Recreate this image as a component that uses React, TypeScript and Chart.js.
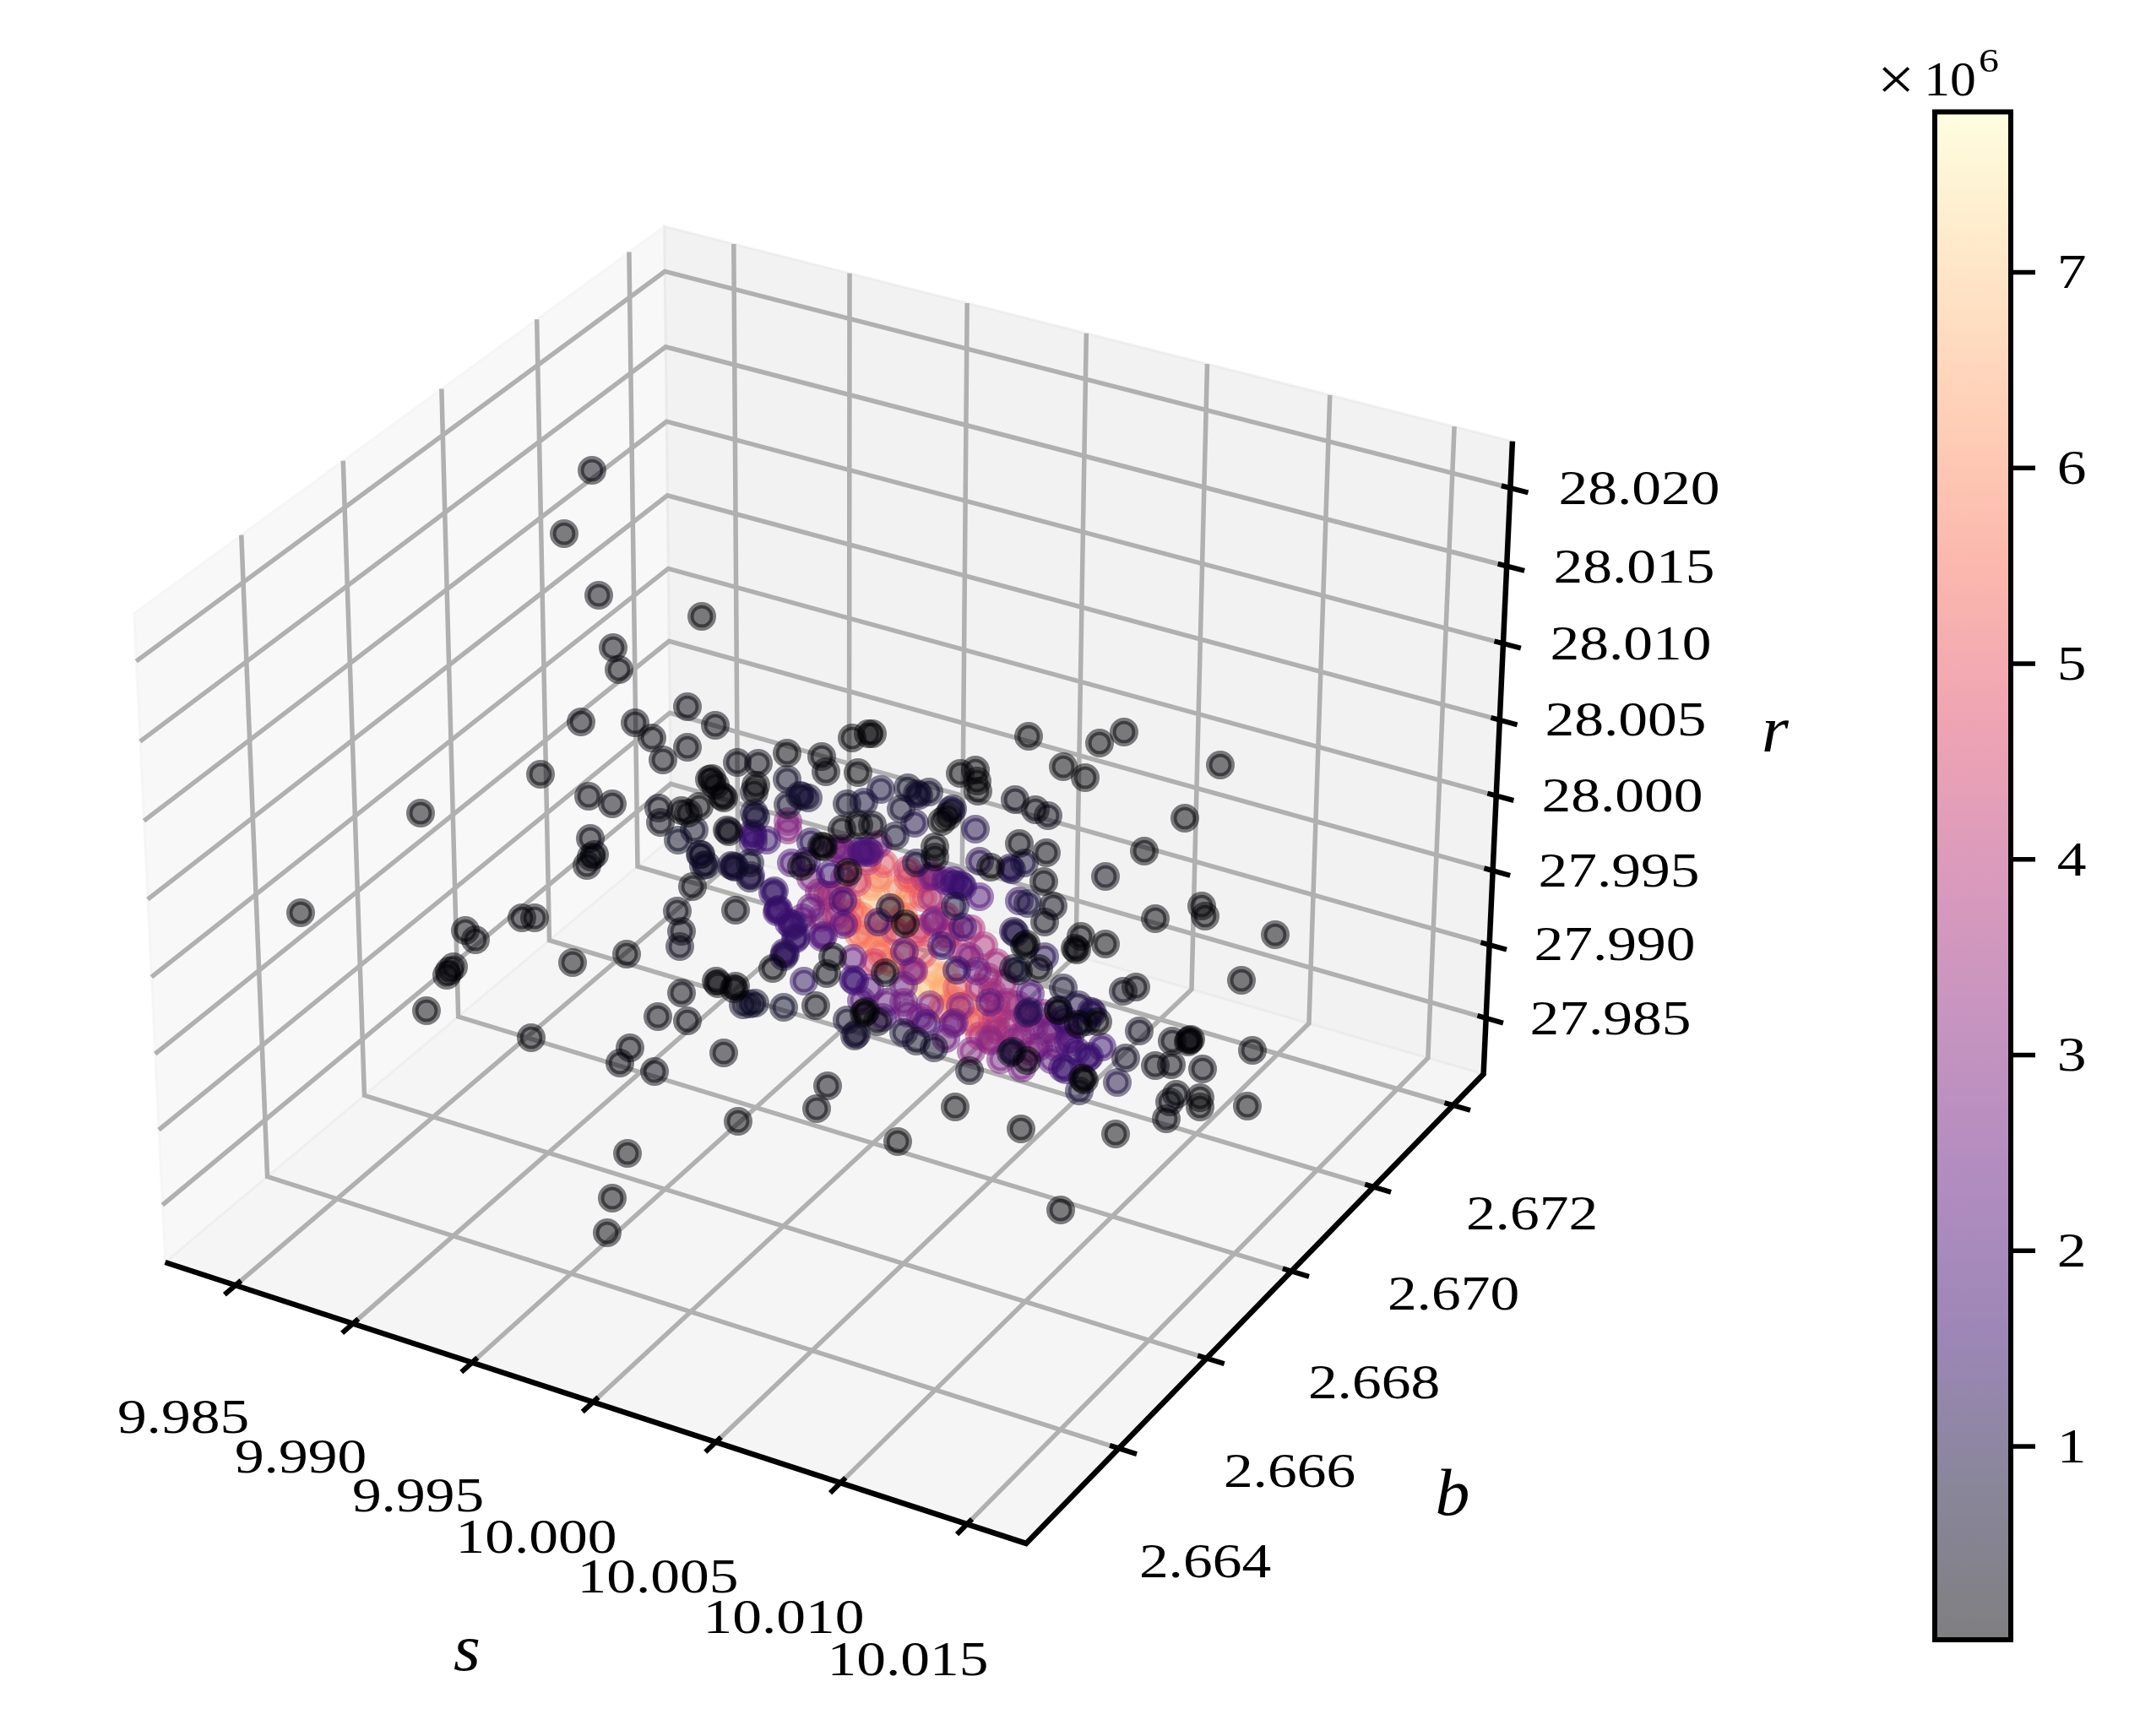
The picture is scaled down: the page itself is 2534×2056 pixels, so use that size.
import React, { useEffect, useRef } from "react";
import { Chart, registerables } from "chart.js";

Chart.register(...registerables);

type P = [number, number, number];

const sTicks = [9.985, 9.99, 9.995, 10.0, 10.005, 10.01, 10.015];
const bTicks = [2.664, 2.666, 2.668, 2.67, 2.672];
const rTicks = [27.985, 27.99, 27.995, 28.0, 28.005, 28.01, 28.015, 28.02];
const sLabels = ["9.985", "9.990", "9.995", "10.000", "10.005", "10.010", "10.015"];
const bLabels = ["2.664", "2.666", "2.668", "2.670", "2.672"];
const rLabels = ["27.985", "27.990", "27.995", "28.000", "28.005", "28.010", "28.015", "28.020"];
const colorbarTicks = [1, 2, 3, 4, 5, 6, 7];
const magma = ["0,0,4", "20,14,54", "59,15,112", "100,26,128", "140,41,129", "181,54,122", "222,73,104", "247,111,92", "254,159,109", "254,206,145", "252,253,191"];

// Points as read from the view plane: [across, down, colour value in units of 10^6]
const blackPoints: P[] = [
  [701,557,.1],[668,632,.05],[709,705,.1],[726,767,.08],[733,793,.08],[831,730,.05],[688,855,.1],[752,856,.1],[772,874,.1],[785,900,.1],
  [814,837,.1],[847,859,.1],[814,885,.1],[640,917,.05],[498,963,.05],[697,943,.1],[725,952,.1],[699,993,.1],[695,1025,.1],[700,1015,.1],[704,1012,.1],
  [356,1081,.05],[551,1102,.05],[563,1113,.05],[618,1087,.05],[633,1087,.05],[537,1145,.05],[532,1150,.05],[529,1155,.05],[505,1197,.05],[678,1140,.05],[742,1130,.05],
  [629,1229,.05],[807,1176,.1],[779,1204,.1],[814,1209,.1],[746,1241,.1],[734,1259,.1],[775,1269,.1],[857,1247,.1],[874,1328,.05],[743,1366,.05],[725,1419,.05],[719,1460,.05],
  [967,1313,.1],[980,1286,.1],[1063,1352,.05],[1131,1311,.05],[1209,1337,.05],[1321,1343,.05],[1256,1433,.05],
  [1218,872,.05],[1302,880,.05],[1331,867,.05],[1445,906,.05],[1259,908,.05],[1285,921,.05],[1403,969,.05],[1226,959,.1],[1137,916,.05],[1155,912,.05],[1157,925,.05],[1158,937,.05],
  [1355,1008,.05],[1368,1088,.05],[1423,1073,.05],[1427,1085,.05],[1510,1107,.05],[1470,1161,.05],[1483,1244,.05],[1477,1310,.05],[1424,1266,.1],[1393,1296,.1],[1385,1305,.1],[1421,1300,.05],[1421,1311,.05],
  [1381,1325,.1],[1368,1262,.1],[1387,1261,.1],[1388,1233,.1],[1408,1232,.05],[1410,1231,.05],[1407,1234,.05],
  [1009,874,.05],[1028,869,.05],[1033,869,.05],[932,892,.05],[973,896,.05],[978,914,.1],[1016,915,.05],[873,903,.2],[898,904,.2],
  [840,923,.05],[843,922,.05],[847,930,.05],[855,943,.05],[857,945,.05],[893,938,.2],[895,930,.05],[861,983,.2],[863,985,.2],[780,957,.2],[782,974,.2],[807,960,.05],[815,963,.05],[828,955,.05],
  [949,1026,.05],[1004,1033,.05],[973,1002,.05],[975,1003,.05],[997,982,.1],[1017,977,.1],[1072,1094,.03],[1048,1152,.2],[1107,1003,.05],[1107,1015,.1],[1115,973,.05],[1122,967,.05],[1173,1027,.05],
  [1230,1147,.03],[1216,1256,.1],[1282,1277,.05],[1284,1279,.05],[1253,1197,.2],[1300,1210,.05],[1277,1213,.1],[1273,1123,.05],[1275,1125,.05],[1280,1109,.05],
  [1213,1120,.1],[1215,1118,.1],[1023,1200,.05],[1025,1198,.05],[848,1162,.05],[850,1165,.05],[869,1171,.05],[871,1168,.05],[915,1147,.05],[966,1191,.1],[979,1153,.1],[986,1133,.1],
  [802,1079,.2],[807,1103,.2],[805,1121,.3],[820,1050,.1],[871,1078,.1],[1033,977,.2],[1247,1073,.2],[1237,1092,.2],[1239,1010,.1],[1207,999,.1],[1236,1044,.1],[1309,1038,.2],[1309,1118,.05],
  [1330,1174,.2],[1345,1169,.1],[1349,1221,.3],[1148,1268,.3],[1333,1253,.4],[1202,947,.2],[1241,966,.2],
];

const indigoPoints: P[] = [
  [822,983,.5],[803,995,.5],[830,1012,.5],[836,1024,.5],[870,1027,.6],[866,1025,.6],[888,1022,.5],[888,1040,.6],[932,923,.5],[1043,935,.8],[947,942,.7],[950,943,.7],[957,945,.7],[933,953,.6],
  [1003,952,.5],[1023,950,.8],[893,963,.7],[895,968,.8],[1060,990,.6],[1075,933,.5],[1088,942,.7],[1086,940,.7],[1100,938,.5],[1128,958,.7],[1126,960,.7],[1067,958,.6],[1083,975,1],[1155,982,1],
  [880,1190,.5],[888,1189,.5],[894,1188,.5],[928,1193,.5],[1039,1210,.3],[1003,1208,.6],[1012,1227,.6],[1014,1225,.6],[1070,1223,.7],[1085,1233,.5],[1106,1241,.5],[1054,1075,.7],[1131,1073,.9],[1202,1105,.8],
  [1200,1147,.5],[1206,1150,.5],[1197,1247,.6],[1199,1245,.6],[1217,1070,.8],[1196,1028,1],[1198,1030,1],[1213,1022,.8],[1259,1170,.6],[1253,1196,.7],[1277,1190,1],[1287,1210,.8],
  [1278,1292,.8],[1323,1282,.9],[1237,1133,1.1],[1085,1022,.8],[829,1012,.5],[833,1025,.5],[1160,1020,1.2],
];

const purplePoints: P[] = [
  [891,987,1.6],[892,990,1.6],[892,997,1.6],[908,995,1.5],[960,997,1.2],[937,1022,1.8],[983,1035,1.6],[1028,1008,2.2],[1020,1008,1.8],[1022,1010,2],[1030,1010,2],[915,1057,1.4],[917,1055,1.4],
  [922,1077,1.5],[998,1067,1.6],[999,1095,2.2],[1040,1092,1.5],[1071,1127,2],[1115,1120,1.5],[1133,1149,1.4],[1140,1098,1.6],[1105,1037,3],[1107,1090,3],[1130,1048,1.7],[1130,1043,1.7],[1160,1062,2],[1120,1043,2],
  [1140,1050,1.5],[1138,1048,1.5],[1207,1067,1.3],[1200,1103,1.3],[938,1097,1.5],[940,1095,1.5],[950,1087,2.4],[942,1112,1.4],[920,1080,1.6],[930,1130,1.2],[928,1133,1.2],
  [952,1162,1.3],[973,1110,2],[975,1108,2],[1010,1135,2.4],[1010,1160,1.6],[1012,1162,1.6],[1050,1187,2.5],[1070,1187,2.6],[1101,1190,3],[1137,1192,3],[1172,1187,2.2],[1217,1200,1.2],[1219,1198,1.2],
  [1128,1213,2.5],[1130,1211,2.5],[1097,1212,1.8],[1292,1198,1.2],[1294,1200,1.2],[1265,1235,2],[1288,1253,1.5],[1290,1251,1.5],[1258,1265,1.5],[1262,1267,1.5],[1260,1207,1.5],[1267,1230,2],[1240,1223,2.5],[1230,1240,2.8],
  [1220,1177,2],[1210,1227,3],[934,1093,1.6],[943,1110,1.6],[869,1026,1.5],[889,1037,1.4],[921,1078,1.6],[929,1128,1.4],[1173,1233,3.2],[1171,1231,3.2],[1082,1150,3],[1070,1167,2.5],[1148,1133,2.8],[1157,1150,2.5],
  [1103,1038,2.6],[1105,1092,2.8],[933,973,3],[933,983,3],
  [1090,1205,2.8],[1120,1230,2.5],[1075,1200,2.5],[1150,1245,3],[1185,1255,2.8],[1210,1265,2.6],[1030,1170,2.2],[1045,1205,1.8],[1020,1185,2],[990,1005,2.5],[1000,1005,2.6],[1040,1000,3],[960,1040,2.8],[960,1075,2.4],[955,1020,1.5],
  [1265,1215,2],[1245,1255,2.2],[1275,1245,1.6],[1305,1240,1.5],
];

const hotPoints: P[] = [
  [1033,1050,6.5],[1032,1070,6.8],[1063,1053,6],[1077,1060,6.2],[1027,1107,6],[1037,1120,6],[1043,1130,5.5],[1003,1067,5],[980,1060,4],[970,1057,3.2],[1003,1093,4.5],[1017,1107,5.5],[973,1087,3.5],[1047,1023,5],[1027,1020,4.2],
  [1000,1013,4],[1060,1103,4.4],[1087,1047,5.5],[1093,1063,5],[1107,1153,6.5],[1117,1170,7],[1133,1170,5],[1100,1167,7],[1093,1130,5],[1103,1063,3.6],[1090,1167,7.6],[1117,1173,6.5],[1160,1207,6],[1193,1187,3.5],[1170,1157,3.5],
  [1160,1227,4],[1193,1217,3.5],[1040,1040,5.8],[1050,1090,6.4],[1070,1130,6],[1115,1195,5.5],[1150,1210,5],[1180,1205,4],[1080,1150,3.6],[1085,1105,5],[1140,1130,4],[1160,1170,3.8],[1200,1230,3.4],[1225,1215,3],
  [1150,1100,3.8],[1165,1120,3.8],[1180,1140,3.6],[1125,1105,4],[1175,1175,3.8],[1190,1165,3.4],[1205,1190,3.4],[1215,1205,3.4],[1235,1200,3],[1245,1215,3],[1180,1220,3.6],[1220,1245,3.2],[1250,1240,3],
  [990,1085,3.8],[985,1060,3.8],[1015,1045,4.5],[1000,1040,3.5],[1075,1030,4.4],[1095,1040,4],[1070,1085,5.5],[1120,1085,4.5],[1120,1110,4],[1090,1100,4.5],[1045,1105,5.8],[1055,1140,5.8],[1035,1140,4.5],
  [1010,1080,5.4],[1020,1085,5.8],[1060,1075,6.5],[1075,1040,5],[1120,1155,6.8],[1130,1185,6],[1145,1190,5.5],[1175,1210,5],[1180,1190,4.5],
];

// View: the projected 3D axes (limits in data units, camera as the reference)
const sLim = [9.98197, 10.01731];
const bLim = [2.66196, 2.67278];
const rLim = [27.98115, 28.02296];
const boxAspect = [1.1905, 1.1905, 0.8929];
const viewU = [0.866, 0.5, 0];
const viewV = [-0.25, 0.433, 0.866];
const viewW = [0.433, -0.75, 0.5];
const viewDist = 10;
const viewScale = 9810;
const viewCentre = [990.5, 1010.5];

function project(s: number, b: number, r: number) {
  const p = [
    ((s - sLim[0]) / (sLim[1] - sLim[0]) - 0.5) * boxAspect[0],
    ((b - bLim[0]) / (bLim[1] - bLim[0]) - 0.5) * boxAspect[1],
    ((r - rLim[0]) / (rLim[1] - rLim[0]) - 0.5) * boxAspect[2],
  ];
  const dot = (a: number[]) => a[0] * p[0] + a[1] * p[1] + a[2] * p[2];
  const d = viewDist - dot(viewW);
  return { x: viewCentre[0] + (viewScale * dot(viewU)) / d, y: viewCentre[1] - (viewScale * dot(viewV)) / d };
}

const [s0, s1] = sLim;
const [b0, b1] = bLim;
const [r0, r1] = rLim;
const tickOut = 0.02;
const tickIn = 0.01;

const cbarMin = 0.012;
const cbarMax = 7.82;
const cbarRect = { left: 2291, right: 2381, top: 132.5, bottom: 1942 };

function magmaColor(c: number, alpha: number) {
  const t = Math.max(0, Math.min(1, (c - cbarMin) / (cbarMax - cbarMin))) * (magma.length - 1);
  const i = Math.min(magma.length - 2, Math.floor(t));
  const a = magma[i].split(",").map(Number);
  const b = magma[i + 1].split(",").map(Number);
  const f = t - i;
  const m = a.map((v, k) => Math.round(v + (b[k] - v) * f));
  return `rgba(${m[0]},${m[1]},${m[2]},${alpha})`;
}

function label(ctx: CanvasRenderingContext2D, text: string, cx: number, cy: number, size = 56, stretch = 1.24, style = "") {
  ctx.save();
  ctx.translate(cx, cy);
  ctx.scale(stretch, 1);
  ctx.font = `${style} ${size}px "Liberation Serif"`;
  ctx.fillStyle = "#000";
  ctx.textAlign = "center";
  ctx.textBaseline = "alphabetic";
  ctx.fillText(text, 0, size * 0.338);
  ctx.restore();
}

const sLabelPos = [[217, 1678], [356, 1725], [495, 1771], [635, 1820], [779, 1867], [928, 1915], [1075, 1965]];
const bLabelPos = [[1427, 1849], [1527, 1742], [1627, 1637], [1721, 1532], [1814, 1437]];
const rLabelPos = [[1907, 1206], [1912, 1118], [1917, 1031], [1921, 942], [1925, 852], [1931, 762], [1935, 671], [1941, 578]];

const backdrop = {
  id: "backdrop",
  beforeDatasetsDraw(chart: any) {
    const { ctx, scales } = chart;
    const poly = (pts: { x: number; y: number }[], fill: string) => {
      ctx.beginPath();
      pts.forEach((p, i) => {
        const X = scales.x.getPixelForValue(p.x);
        const Y = scales.y.getPixelForValue(p.y);
        if (i) ctx.lineTo(X, Y);
        else ctx.moveTo(X, Y);
      });
      ctx.closePath();
      ctx.fillStyle = fill;
      ctx.fill();
      ctx.strokeStyle = fill;
      ctx.lineWidth = 3;
      ctx.stroke();
    };
    ctx.save();
    poly([project(s0, b0, r0), project(s0, b1, r0), project(s0, b1, r1), project(s0, b0, r1)], "rgba(242,242,242,0.5)");
    poly([project(s0, b1, r0), project(s1, b1, r0), project(s1, b1, r1), project(s0, b1, r1)], "rgba(230,230,230,0.5)");
    poly([project(s0, b0, r0), project(s1, b0, r0), project(s1, b1, r0), project(s0, b1, r0)], "rgba(236,236,236,0.5)");
    ctx.restore();
  },
};

const furniture = {
  id: "furniture",
  afterDatasetsDraw(chart: any) {
    const { ctx } = chart;
    ctx.save();
    sLabels.forEach((t, i) => label(ctx, t, sLabelPos[i][0], sLabelPos[i][1]));
    bLabels.forEach((t, i) => label(ctx, t, bLabelPos[i][0], bLabelPos[i][1]));
    rLabels.forEach((t, i) => label(ctx, t, rLabelPos[i][0], rLabelPos[i][1]));
    label(ctx, "s", 553, 1952, 78, 1.05, "italic");
    label(ctx, "b", 1720, 1768, 78, 1.05, "italic");
    label(ctx, "r", 2102, 864, 78, 1.05, "italic");

    const { left, right, top, bottom } = cbarRect;
    const grad = ctx.createLinearGradient(0, bottom, 0, top);
    magma.forEach((m: string, i: number) => grad.addColorStop(i / (magma.length - 1), `rgba(${m},0.5)`));
    ctx.fillStyle = grad;
    ctx.fillRect(left, top, right - left, bottom - top);
    ctx.strokeStyle = "#000";
    ctx.lineWidth = 6;
    ctx.strokeRect(left, top, right - left, bottom - top);
    ctx.lineWidth = 5.5;
    colorbarTicks.forEach((v) => {
      const y = bottom - ((v - cbarMin) / (cbarMax - cbarMin)) * (bottom - top);
      ctx.beginPath();
      ctx.moveTo(right, y);
      ctx.lineTo(2410, y);
      ctx.stroke();
      label(ctx, String(v), 2453, y);
    });
    label(ctx, "\u00d7", 2245, 94, 72, 1.1);
    label(ctx, "10", 2309, 94, 56, 1.1);
    label(ctx, "6", 2355, 71, 40, 1.2);
    ctx.restore();
  },
};

function lineSet(data: { x: number; y: number }[], color: string, width: number, order: number) {
  return { type: "scatter", data, showLine: true, pointRadius: 0, borderColor: color, borderWidth: width, borderCapStyle: "butt", borderJoinStyle: "miter", order, clip: false, tension: 0 };
}

export default function App() {
  const ref = useRef<HTMLCanvasElement>(null);
  useEffect(() => {
    const gridSets = [
      ...sTicks.map((s) => lineSet([project(s, b0, r0), project(s, b1, r0), project(s, b1, r1)], "#b0b0b0", 5.5, 5)),
      ...bTicks.map((b) => lineSet([project(s1, b, r0), project(s0, b, r0), project(s0, b, r1)], "#b0b0b0", 5.5, 5)),
      ...rTicks.map((r) => lineSet([project(s1, b1, r), project(s0, b1, r), project(s0, b0, r)], "#b0b0b0", 5.5, 5)),
    ];
    const sSpan = s1 - s0;
    const bSpan = b1 - b0;
    const tickSets = [
      ...sTicks.map((s) => lineSet([project(s, b0 + tickIn * bSpan, r0), project(s, b0 - tickOut * bSpan, r0)], "#000", 6, 3)),
      ...bTicks.map((b) => lineSet([project(s1 - tickIn * sSpan, b, r0), project(s1 + tickOut * sSpan, b, r0)], "#000", 6, 3)),
      ...rTicks.map((r) => lineSet([project(s1 - tickIn * sSpan, b1, r), project(s1 + tickOut * sSpan, b1, r)], "#000", 6, 3)),
    ];
    const axisSet = lineSet([project(s0, b0, r0), project(s1, b0, r0), project(s1, b1, r0), project(s1, b1, r1)], "#000", 6.5, 4);
    const pts = [...hotPoints, ...purplePoints, ...indigoPoints, ...blackPoints].sort((a, b) => b[2] - a[2]);
    const scatterSet = {
      type: "scatter",
      data: pts.map((p) => ({ x: p[0], y: p[1] })),
      pointRadius: 13.3,
      pointBorderWidth: 7.4,
      pointBackgroundColor: pts.map((p) => magmaColor(p[2], 0.5)),
      pointBorderColor: pts.map((p) => magmaColor(p[2], 0.5)),
      order: 1,
      clip: false,
    };
    const chart = new Chart(ref.current as HTMLCanvasElement, {
      type: "scatter",
      data: { datasets: [scatterSet, ...tickSets, axisSet, ...gridSets] as any },
      options: {
        animation: false,
        responsive: false,
        layout: { padding: 0, autoPadding: false },
        plugins: { legend: { display: false }, tooltip: { enabled: false }, title: { display: false } },
        scales: {
          x: { type: "linear", min: 0, max: 2534, display: false },
          y: { type: "linear", min: 0, max: 2056, reverse: true, display: false },
        },
      },
      plugins: [backdrop, furniture],
    } as any);
    return () => chart.destroy();
  }, []);
  return (
    <div style={{ position: "fixed", left: 0, top: 0, width: 2534, height: 2056, background: "#fff" }}>
      <canvas ref={ref} width={2534} height={2056} style={{ display: "block" }} />
    </div>
  );
}
